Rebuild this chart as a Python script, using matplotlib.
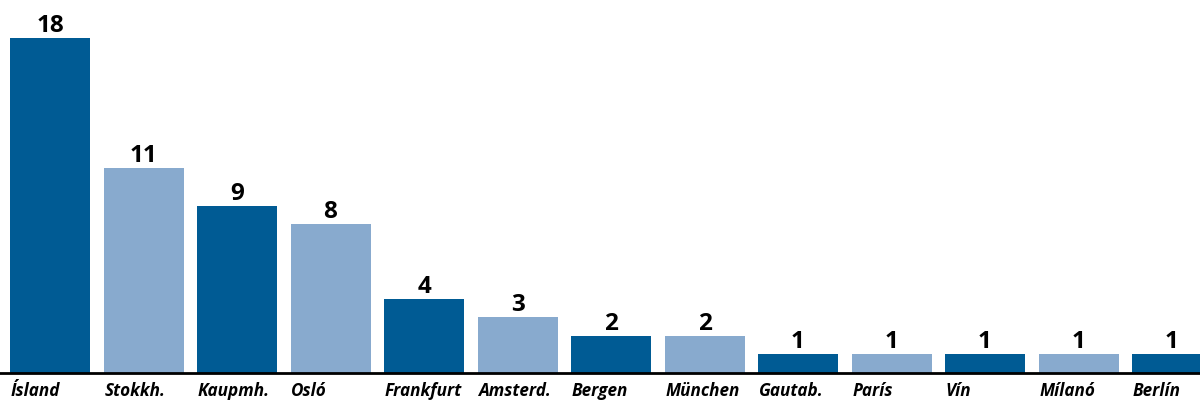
import matplotlib.pyplot as plt

cities = ["Ísland", "Stokkh.", "Kaupmh.", "Osló", "Frankfurt", "Amsterd.", "Bergen",
          "München", "Gautab.", "París", "Vín", "Mílanó", "Berlín"]
counts = [18, 11, 9, 8, 4, 3, 2, 2, 1, 1, 1, 1, 1]

dark = "#005b94"
light = "#88aace"
colors = [dark if i % 2 == 0 else light for i in range(len(cities))]

plt.rcParams['font.family'] = ['Open Sans', 'DejaVu Sans']

dpi = 100
fig = plt.figure(figsize=(12, 4.01), dpi=dpi)
ax = fig.add_axes([0, 28 / 401, 1, 373 / 401])

width = 80 / 93.5
x = list(range(len(cities)))
bars = ax.bar(x, counts, width=width, align='edge', color=colors, zorder=2)

ax.set_xlim(-10 / 93.5, 1190 / 93.5)
ax.set_ylim(0, 373 / 18.6)

for sp in ['top', 'right', 'left']:
    ax.spines[sp].set_visible(False)
ax.spines['bottom'].set_linewidth(2)
ax.spines['bottom'].set_color('black')
ax.set_xticks([])
ax.set_yticks([])

for i, (name, v) in enumerate(zip(cities, counts)):
    ax.annotate(str(v), (i + width / 2, v), xytext=(0, 0), textcoords='offset points',
                ha='center', va='bottom', fontsize=17.5, fontweight='bold')
    ax.annotate(name, (i, 0), xytext=(0.5, -16.5), textcoords='offset points',
                ha='left', va='baseline', fontsize=12.3, fontweight='bold',
                fontstyle='italic', annotation_clip=False)

plt.savefig("out.png", dpi=dpi)
